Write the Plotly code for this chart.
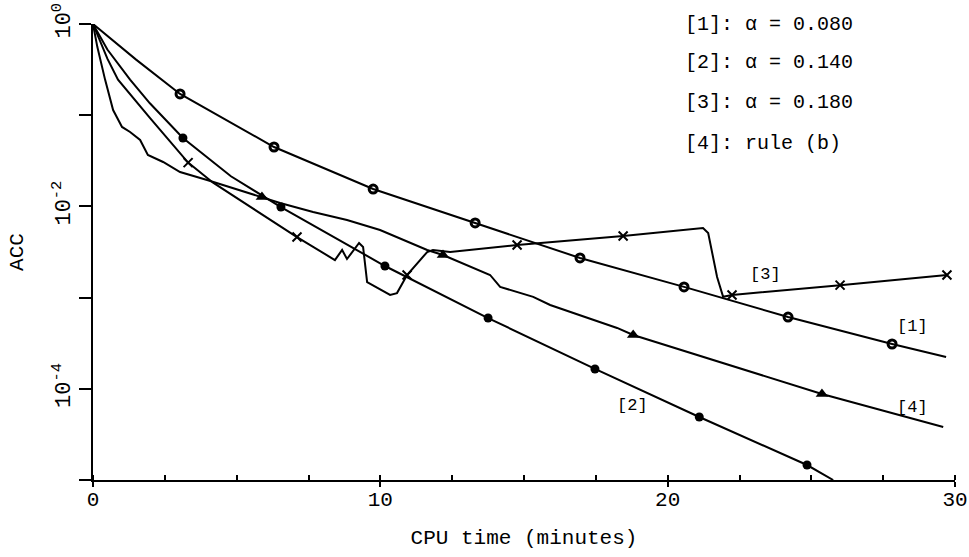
import plotly.graph_objects as go

# ---- data ----
# [1] alpha = 0.080
t1 = [0, 1.5, 3.03, 6.30, 9.75, 13.3, 16.95, 20.57, 24.19, 27.81, 29.69]
acc1 = [1.0, 0.407, 0.171, 0.0448, 0.0155, 0.00658, 0.00272, 0.00131, 0.000612, 0.00031, 0.000223]
t1_m = [3.03, 6.30, 9.75, 13.3, 16.95, 20.57, 24.19, 27.81]
acc1_m = [0.171, 0.0448, 0.0155, 0.00658, 0.00272, 0.00131, 0.000612, 0.00031]

# [2] alpha = 0.140
t2 = [0, 0.5, 1.29, 1.98, 3.13, 4.8, 6.54, 10.16, 13.75, 17.47, 21.1, 24.85, 25.76]
acc2 = [1.0, 0.525, 0.245, 0.135, 0.0562, 0.0214, 0.00984, 0.00222, 0.000597, 0.000165, 4.91e-5, 1.46e-5, 1.0e-5]
t2_m = [3.13, 6.54, 10.16, 13.75, 17.47, 21.1, 24.85]
acc2_m = [0.0562, 0.00984, 0.00222, 0.000597, 0.000165, 4.91e-5, 1.46e-5]

# [3] alpha = 0.180
t3 = [0, 0.5, 0.87, 1.98, 3.31, 4.18, 7.1, 8.42, 8.67, 8.84, 9.26, 9.40, 9.54, 10.34, 10.58,
      10.93, 11.63, 11.83, 12.43, 14.76, 18.45, 21.23, 21.41, 21.55, 21.72, 21.93, 22.24, 26.0, 29.72]
acc3 = [1.0, 0.417, 0.2455, 0.0933, 0.0302, 0.0182, 0.00461, 0.00258, 0.00333, 0.00265, 0.00397,
        0.00359, 0.00148, 0.00107, 0.00112, 0.00177, 0.00316, 0.00333, 0.00316, 0.00378, 0.00473,
        0.00579, 0.00511, 0.00316, 0.00168, 0.00102, 0.00107, 0.00137, 0.00177]
t3_m = [3.31, 7.1, 10.93, 14.76, 18.45, 22.24, 26.0, 29.72]
acc3_m = [0.0302, 0.00461, 0.00177, 0.00378, 0.00473, 0.00107, 0.00137, 0.00177]

# [4] rule (b)
t4 = [0, 0.15, 0.42, 0.70, 1.01, 1.29, 1.64, 1.91, 2.44, 3.03, 3.97, 4.77, 5.88, 6.51, 7.66, 8.84,
      9.99, 11.63, 12.18, 13.82, 14.17, 15.32, 15.91, 18.24, 18.80, 25.37, 29.59]
acc4 = [1.0, 0.562, 0.2455, 0.114, 0.0743, 0.0655, 0.0535, 0.0366, 0.0307, 0.0238, 0.0195, 0.0163,
        0.0127, 0.0109, 0.00869, 0.00710, 0.00551, 0.00333, 0.00293, 0.00177, 0.00131, 0.00102,
        0.00083, 0.000465, 0.000389, 8.77e-5, 3.81e-5]
t4_m = [5.88, 12.18, 18.80, 25.37]
acc4_m = [0.0127, 0.00293, 0.000389, 8.77e-5]

legend_lines = ["[1]: α = 0.080", "[2]: α = 0.140", "[3]: α = 0.180", "[4]: rule (b)"]
y_tickvals = [1e-4, 1e-2, 1]
y_ticktext = ["10<sup>-4</sup>", "10<sup>-2</sup>", "10<sup>0</sup>"]
y_minorvals = [1e-5, 1e-3, 1e-1]
x_tickvals = [0, 10, 20, 30]

FONT = "Liberation Mono"
BLACK = "#000000"

fig = go.Figure()

def add_curve(t, a, tm, am, symbol, size, lw, name):
    fig.add_trace(go.Scatter(x=t, y=a, mode="lines", line=dict(color=BLACK, width=2),
                             name=name, showlegend=False, hoverinfo="skip"))
    fig.add_trace(go.Scatter(x=tm, y=am, mode="markers", name=name, showlegend=False,
                             marker=dict(symbol=symbol, size=size, color=BLACK,
                                         line=dict(color=BLACK, width=lw))))

add_curve(t1, acc1, t1_m, acc1_m, "circle-open", 8, 3, "[1]")
add_curve(t2, acc2, t2_m, acc2_m, "circle", 9, 0, "[2]")
add_curve(t3, acc3, t3_m, acc3_m, "x-thin-open", 9, 2, "[3]")
add_curve(t4, acc4, t4_m, acc4_m, "triangle-up", 11, 0, "[4]")

annotations = []
leg_y = [1.0, 0.9145, 0.827, 0.737]
for txt, yy in zip(legend_lines, leg_y):
    annotations.append(dict(text=txt, xref="paper", yref="paper", x=0.684, y=yy,
                            xanchor="left", yanchor="middle", showarrow=False,
                            font=dict(family=FONT, size=20, color=BLACK)))

curve_labels = [("[3]", 23.39, -2.752), ("[1]", 28.51, -3.322), ("[4]", 28.51, -4.2), ("[2]", 18.76, -4.178)]
for txt, xx, ly in curve_labels:
    annotations.append(dict(text=txt, xref="x", yref="y", x=xx, y=ly, showarrow=False,
                            xanchor="center", yanchor="middle",
                            font=dict(family=FONT, size=17, color=BLACK)))

fig.update_layout(
    width=969, height=557,
    margin=dict(l=93, r=14, t=24, b=77),
    paper_bgcolor="white", plot_bgcolor="white",
    font=dict(family=FONT, size=20, color=BLACK),
    annotations=annotations,
)

fig.update_xaxes(
    range=[0, 30], showgrid=False, zeroline=False, automargin=False,
    showline=True, linecolor=BLACK, linewidth=2,
    tickvals=x_tickvals, ticks="outside", ticklen=5, tickwidth=1.5, tickcolor=BLACK,
    ticklabelstandoff=-6, ticklabeloverflow="allow",
    minor=dict(dtick=2.5, ticks="inside", ticklen=5, tickwidth=1.5, tickcolor=BLACK, showgrid=False),
    tickfont=dict(family=FONT, size=21),
    title=dict(text="CPU time (minutes)", font=dict(family=FONT, size=21), standoff=18),
)

fig.update_yaxes(
    type="log", range=[-5, 0], showgrid=False, zeroline=False, automargin=False,
    showline=True, linecolor=BLACK, linewidth=2,
    tickvals=y_tickvals, ticktext=y_ticktext, tickangle=-90, ticklabeloverflow="allow",
    ticks="outside", ticklen=12, tickwidth=2, tickcolor=BLACK,
    minor=dict(tickmode="array", tickvals=y_minorvals, ticks="outside", ticklen=12,
               tickwidth=2, tickcolor=BLACK, showgrid=False),
    tickfont=dict(family=FONT, size=22),
    title=dict(text="ACC", font=dict(family=FONT, size=21), standoff=19),
)

# remove the browser's default 8px body margin so the figure sits at the page origin
fig.write_html("out.html",
               config={"displayModeBar": False},
               post_script="document.body.style.margin='0px';document.body.style.overflow='hidden';")
